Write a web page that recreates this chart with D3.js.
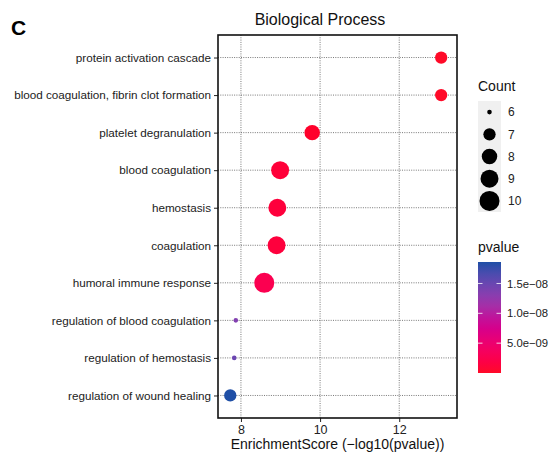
<!DOCTYPE html>
<html>
<head>
<meta charset="utf-8">
<script src="https://cdn.jsdelivr.net/npm/d3@7"></script>
<style>
  body { margin: 0; background: #fff; }
  text { font-family: "Liberation Sans", Arial, sans-serif; }
</style>
</head>
<body>
<div id="d3-container"></div>
<script>
// data (top row first)
const terms = [
  "protein activation cascade",
  "blood coagulation, fibrin clot formation",
  "platelet degranulation",
  "blood coagulation",
  "hemostasis",
  "coagulation",
  "humoral immune response",
  "regulation of blood coagulation",
  "regulation of hemostasis",
  "regulation of wound healing"
];
const scores = [13.06, 13.06, 9.80, 8.99, 8.92, 8.90, 8.59, 7.87, 7.83, 7.73];
const counts = [7, 7, 8, 9, 9, 9, 10, 6, 6, 7];
const pvalues = [8.7e-14, 8.7e-14, 1.6e-10, 1.0e-9, 1.2e-9, 1.26e-9, 2.6e-9, 1.35e-8, 1.48e-8, 1.86e-8];

const xTicks = [8, 10, 12];
const countBreaks = [6, 7, 8, 9, 10];
const pBreaks = [5e-9, 1e-8, 1.5e-8];
const pLabels = ["5.0e\u221209", "1.0e\u221208", "1.5e\u221208"];

let margin = { top: 35, left: 218, right: 93, bottom: 38 },
  width = 550,
  height = 456;
const innerWidth = width - margin.left - margin.right;
const innerHeight = height - margin.top - margin.bottom;

const data = terms.map((t, i) => ({ term: t, score: scores[i], count: counts[i], p: pvalues[i] }));

const svg = d3.select("#d3-container")
  .append("svg")
  .attr("width", width)
  .attr("height", height);

// panel letter + title
svg.append("text").attr("x", 11).attr("y", 35)
  .attr("font-size", 21).attr("font-weight", "bold").text("C");
svg.append("text").attr("x", 320).attr("y", 25).attr("text-anchor", "middle")
  .attr("font-size", 16).attr("fill", "#111").text("Biological Process");

const xScale = d3.scaleLinear().domain([7.42, 13.46]).range([0, innerWidth]);
const yScale = d3.scalePoint().domain(terms).range([0, innerHeight]).padding(0.6);

// ggplot-like area scale for size (diameter)
const sizeScale = d3.scaleLinear().domain([0, 1]).range([4.6, 20]);
const diam = c => sizeScale(Math.sqrt((c - 6) / 4));

const pExtent = d3.extent(pvalues);
const colorScale = d3.scaleLinear().domain(pExtent)
  .range(["#ff0a28", "#1f4fa6"]).interpolate(d3.interpolateHcl);

const g = svg.append("g").attr("transform", `translate(${margin.left},${margin.top})`);

// grid
g.selectAll(".vgrid").data(xTicks).enter().append("line")
  .attr("x1", d => xScale(d)).attr("x2", d => xScale(d))
  .attr("y1", 0).attr("y2", innerHeight)
  .attr("stroke", "#555").attr("stroke-width", 0.8).attr("stroke-dasharray", "1,1.3");
g.selectAll(".hgrid").data(terms).enter().append("line")
  .attr("x1", 0).attr("x2", innerWidth)
  .attr("y1", d => yScale(d)).attr("y2", d => yScale(d))
  .attr("stroke", "#555").attr("stroke-width", 0.8).attr("stroke-dasharray", "1,1.3");

// points
g.selectAll("circle").data(data).enter().append("circle")
  .attr("cx", d => xScale(d.score))
  .attr("cy", d => yScale(d.term))
  .attr("r", d => diam(d.count) / 2)
  .attr("fill", d => colorScale(d.p));

// axes
const xAxis = g.append("g").attr("transform", `translate(0,${innerHeight})`)
  .call(d3.axisBottom(xScale).tickValues(xTicks).tickFormat(d3.format("d")).tickSize(4).tickPadding(3))
  .attr("font-size", 12.5).attr("font-family", null);
const yAxis = g.append("g")
  .call(d3.axisLeft(yScale).tickSize(4).tickPadding(3))
  .attr("font-size", 11.7).attr("font-family", null);
xAxis.select(".domain").remove();
yAxis.select(".domain").remove();
xAxis.selectAll("text").attr("fill", "#222");
yAxis.selectAll("text").attr("fill", "#222");
xAxis.selectAll("line").attr("stroke", "#222");
yAxis.selectAll("line").attr("stroke", "#222");

// border
g.append("rect").attr("width", innerWidth).attr("height", innerHeight)
  .attr("fill", "none").attr("stroke", "#111").attr("stroke-width", 1.6);

svg.append("text").attr("x", margin.left + innerWidth / 2).attr("y", 449)
  .attr("text-anchor", "middle").attr("font-size", 14).attr("fill", "#111")
  .text("EnrichmentScore (\u2212log10(pvalue))");

// size legend
const lx = 478, lw = 23, keyH = 22.2, ly = 101;
svg.append("text").attr("x", lx).attr("y", 91).attr("font-size", 14).attr("fill", "#111").text("Count");
svg.append("rect").attr("x", lx).attr("y", ly).attr("width", lw).attr("height", keyH * countBreaks.length)
  .attr("fill", "#f0f0f0");
const keys = svg.selectAll(".key").data(countBreaks).enter().append("g")
  .attr("transform", (d, i) => `translate(${lx + lw / 2},${ly + keyH * (i + 0.5)})`);
keys.append("circle").attr("r", d => diam(d) / 2).attr("fill", "#000");
keys.append("text").attr("x", lw / 2 + 7).attr("dy", "0.36em")
  .attr("font-size", 12).attr("fill", "#222").text(d => d);

// colour legend
const cTop = 262, cBot = 373;
svg.append("text").attr("x", lx).attr("y", 252).attr("font-size", 14).attr("fill", "#111").text("pvalue");
const defs = svg.append("defs");
const grad = defs.append("linearGradient").attr("id", "pgrad")
  .attr("x1", 0).attr("y1", 1).attr("x2", 0).attr("y2", 0);
d3.range(0, 1.0001, 0.1).forEach(t => {
  grad.append("stop").attr("offset", t)
    .attr("stop-color", colorScale(pExtent[0] + t * (pExtent[1] - pExtent[0])));
});
svg.append("rect").attr("x", lx).attr("y", cTop).attr("width", lw).attr("height", cBot - cTop)
  .attr("fill", "url(#pgrad)");
const pScale = d3.scaleLinear().domain(pExtent).range([cBot, cTop]);
pBreaks.forEach((b, i) => {
  const y = pScale(b);
  svg.append("line").attr("x1", lx).attr("x2", lx + 4.5).attr("y1", y).attr("y2", y)
    .attr("stroke", "#fff").attr("stroke-opacity", 0.8);
  svg.append("line").attr("x1", lx + lw - 4.5).attr("x2", lx + lw).attr("y1", y).attr("y2", y)
    .attr("stroke", "#fff").attr("stroke-opacity", 0.8);
  svg.append("text").attr("x", lx + lw + 6).attr("y", y).attr("dy", "0.36em")
    .attr("font-size", 11.3).attr("fill", "#222").text(pLabels[i]);
});
</script>
</body>
</html>
